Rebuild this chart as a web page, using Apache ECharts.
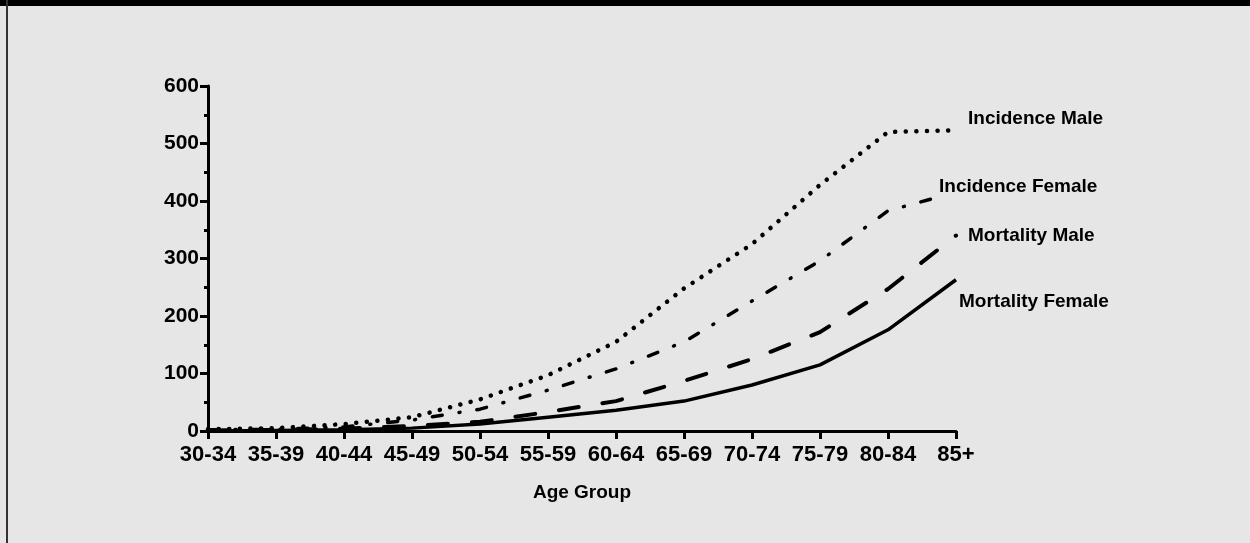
<!DOCTYPE html>
<html>
<head>
<meta charset="utf-8">
<script src="https://cdn.jsdelivr.net/npm/echarts@6/dist/echarts.min.js"></script>
<style>
html,body{margin:0;padding:0;background:#e6e6e6;}
#chart{width:1250px;height:543px;}
</style>
</head>
<body>
<div id="chart"></div>
<script>
const categories = ['30-34','35-39','40-44','45-49','50-54','55-59','60-64','65-69','70-74','75-79','80-84','85+'];
const incidenceMale   = [3, 5, 12, 24, 55, 97, 155, 248, 325, 428, 520, 523];
const incidenceFemale = [2, 3, 7, 19, 38, 71, 108, 155, 226, 296, 383, 415];
const mortalityMale   = [1, 2, 4, 9, 16, 33, 52, 87, 125, 172, 247, 340];
const mortalityFemale = [0, 1, 2, 5, 12, 24, 36, 52, 80, 115, 176, 263];
const yTicks = [0, 100, 200, 300, 400, 500, 600];

const FONT = '"Liberation Sans", Arial, Helvetica, sans-serif';
const chart = echarts.init(document.getElementById('chart'), null, {renderer: 'canvas'});

function mkSeries(name, data, type, width, offset) {
  return {
    name: name,
    type: 'line',
    data: data,
    showSymbol: false,
    symbol: 'none',
    smooth: false,
    lineStyle: { color: '#000', width: width, type: type, cap: type === 'solid' ? 'butt' : 'round' },
    endLabel: {
      show: true,
      formatter: '{a}',
      color: '#000',
      fontFamily: FONT,
      fontWeight: 'bold',
      fontSize: 19,
      distance: 0,
      offset: offset,
      backgroundColor: '#e6e6e6',
      padding: [1, 2]
    },
    emphasis: { disabled: true }
  };
}

chart.setOption({
  backgroundColor: '#e6e6e6',
  animation: false,
  graphic: [
    { type: 'rect', shape: { x: 0, y: 0, width: 1250, height: 6 }, style: { fill: '#000' } },
    { type: 'rect', shape: { x: 6, y: 0, width: 2, height: 543 }, style: { fill: '#333' } }
  ],
  grid: { left: 208, right: 294, top: 86, bottom: 112, containLabel: false },
  xAxis: {
    type: 'category',
    data: categories,
    boundaryGap: false,
    name: 'Age Group',
    nameLocation: 'middle',
    nameGap: 52,
    nameTextStyle: { color: '#000', fontFamily: FONT, fontWeight: 'bold', fontSize: 19 },
    axisLine: { lineStyle: { color: '#000', width: 3 } },
    axisTick: { show: true, length: 8, lineStyle: { color: '#000', width: 3 }, alignWithLabel: true },
    axisLabel: { color: '#000', fontFamily: FONT, fontWeight: 'bold', fontSize: 22, margin: 13, interval: 0 },
    splitLine: { show: false }
  },
  yAxis: {
    type: 'value',
    min: yTicks[0],
    max: yTicks[yTicks.length - 1],
    interval: 100,
    axisLine: { show: true, lineStyle: { color: '#000', width: 3 } },
    axisTick: { show: true, length: 8, lineStyle: { color: '#000', width: 3 } },
    minorTick: { show: true, splitNumber: 2, length: 4, lineStyle: { color: '#000', width: 3 } },
    axisLabel: { color: '#000', fontFamily: FONT, fontWeight: 'bold', fontSize: 21, margin: 9 },
    splitLine: { show: false },
    minorSplitLine: { show: false }
  },
  series: [
    mkSeries('Incidence Male', incidenceMale, [0.1, 10.5], 4.5, [10, -12]),
    mkSeries('Incidence Female', incidenceFemale, [10, 17, 1, 17], 3.5, [-19, -6]),
    mkSeries('Mortality Male', mortalityMale, [20, 24], 4, [10, 0]),
    mkSeries('Mortality Female', mortalityFemale, 'solid', 3.5, [1, 22])
  ]
});
</script>
</body>
</html>
